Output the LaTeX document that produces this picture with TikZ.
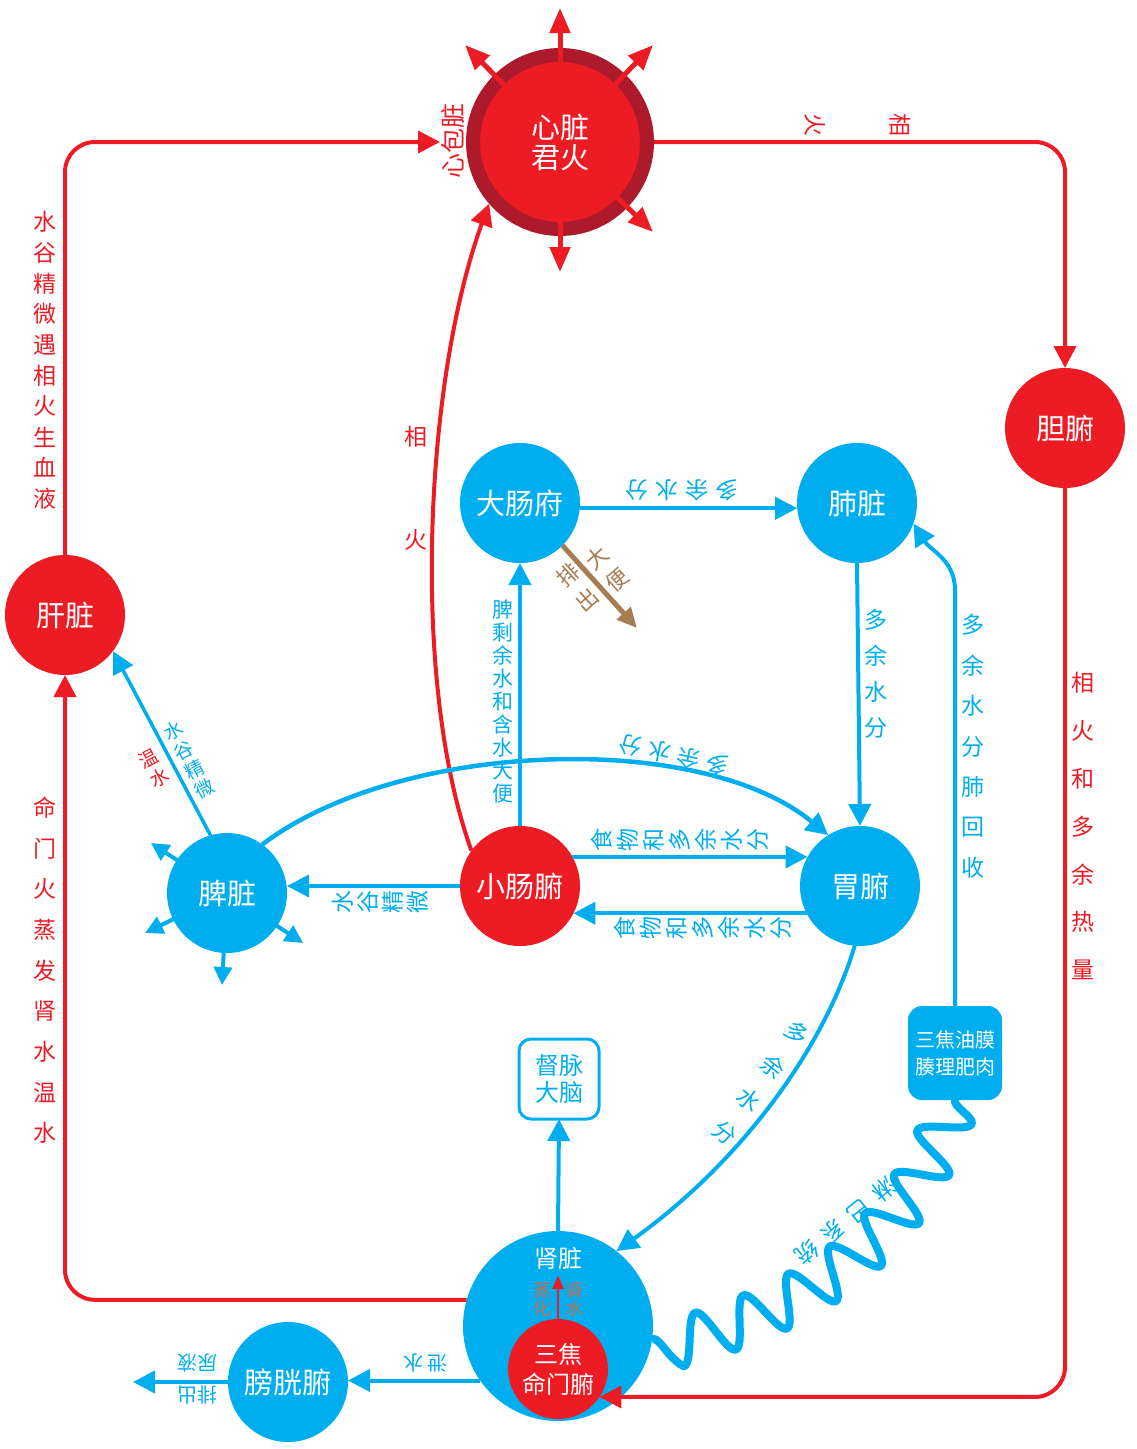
\documentclass[tikz,border=0pt]{standalone}
\usepackage{fontspec}
\setmainfont{Noto Sans CJK SC}
\usetikzlibrary{arrows.meta,decorations.pathmorphing}
\definecolor{cred}{RGB}{237,28,36}
\definecolor{cblue}{RGB}{0,174,239}
\definecolor{cdark}{RGB}{173,26,44}
\definecolor{cbrown}{RGB}{166,124,82}
\definecolor{corange}{RGB}{196,110,82}
\newcommand\lblseq[7]{\foreach \c [count=\i from 0] in {#7} {\node[#6] (#1\i) at ({#2+\i*(#4)},{#3+\i*(#5)}) {\c};}}
\begin{document}
\begin{tikzpicture}[x=1pt,y=-1pt,
  every node/.style={inner sep=0pt, outer sep=0pt},
  org/.style={circle, minimum size=120pt, text=white, font=\fontsize{29}{31}\selectfont, align=center},
  redorg/.style={org, fill=cred},
  blueorg/.style={org, fill=cblue},
  lblr/.style={text=cred, font=\fontsize{23}{25}\selectfont},
  lblb/.style={text=cblue, font=\fontsize{23}{25}\selectfont},
  lblbs/.style={text=cblue, font=\fontsize{20}{22}\selectfont},
  brownlbl/.style={text=cbrown, font=\fontsize{22}{24}\selectfont},
  orlbl/.style={text=corange, font=\fontsize{18}{20}\selectfont},
  rline/.style={draw=cred, line width=4pt},
  bline/.style={draw=cblue, line width=4pt},
  arrowhd/.style={-{Triangle[length=22pt,width=22pt]}},
  radial/.style={draw=cred, line width=5pt, shorten <=80pt, -{Triangle[length=25pt,width=20pt]}},
  smallarr/.style={draw=cblue, line width=4pt, shorten <=58pt, -{Triangle[length=18pt,width=18pt]}}
]
\useasboundingbox (0,0) rectangle (1136,1449);

% ---------- nodes ----------
\node[circle, minimum size=174pt, fill=cred, draw=cdark, line width=14pt, outer sep=7pt,
      text=white, font=\fontsize{29}{30}\selectfont, align=center] (heart) at (560,142) {心脏\\君火};
\node[redorg] (gb) at (1065,428) {胆腑};
\node[redorg] (lv) at (65,615) {肝脏};
\node[blueorg] (li) at (520,503) {大肠府};
\node[blueorg] (lu) at (857,503) {肺脏};
\node[redorg] (sm) at (520,886) {小肠腑};
\node[blueorg] (st) at (860,886) {胃腑};
\node[blueorg] (sp) at (227,893) {脾脏};
\node[blueorg] (bl) at (288,1382) {膀胱腑};
\node[circle, fill=cblue, minimum size=190pt] (kd) at (558,1326) {};
\node[text=white, font=\fontsize{24}{26}\selectfont] (kdlbl) at (558,1258) {肾脏};
\node[circle, fill=cred, minimum size=100pt, text=white, align=center,
      font=\fontsize{24}{30}\selectfont] (sj) at (558,1369) {三焦\\命门腑};
\node[draw=cblue, line width=3pt, fill=white, rounded corners=12pt, minimum width=80pt,
      minimum height=80pt, text=cblue, align=center, font=\fontsize{24}{27}\selectfont] (dm) at (559,1079) {督脉\\大脑};
\node[fill=cblue, rounded corners=14pt, minimum width=94pt, minimum height=94pt, text=white,
      align=center, font=\fontsize{20}{27}\selectfont] (ob) at (955,1053) {三焦油膜\\腠理肥肉};

% ---------- free ends ----------
\coordinate (hN) at (560,8);
\coordinate (hNE) at (653,45);
\coordinate (hNW) at (465,45);
\coordinate (hSE) at (653,232);
\coordinate (hS) at (560,272);
\coordinate (spa) at (151,843);
\coordinate (spb) at (145,933);
\coordinate (spc) at (222,985);
\coordinate (spd) at (303,943);
\coordinate (stool) at (637,628);
\coordinate (kdup) at (558,1275);
\coordinate (blout) at (133,1382);
\coordinate (ret) at (955,590);

% ---------- lymph wave ----------
\draw[draw=cblue, line width=8pt, line join=round, decorate,
      decoration={snake, segment length=53pt, amplitude=24pt}]
  (ob.south) .. controls (900,1250) and (800,1300) .. (kd.-8);

% ---------- red connectors ----------
\draw[rline, arrowhd, rounded corners=30pt, shorten >=26pt] (lv.north) |- (heart.west);
\draw[rline, arrowhd, rounded corners=30pt] (heart.east) -| (gb.north);
\draw[rline, arrowhd, rounded corners=30pt] (gb.south) |- (sj.-34);
\draw[rline, arrowhd, rounded corners=30pt] (kd.164) -| (lv.south);
\draw[rline, arrowhd] (sm.144) .. controls (410,680) and (425,380) .. (heart.221);
\foreach \t in {hN,hNE,hNW,hSE,hS} \draw[radial] (heart.center) -- (\t);

% ---------- blue connectors ----------
\draw[bline, arrowhd] (sm.north) -- (li.south);
\draw[bline, arrowhd] (li.-5) -- (lu.185);
\draw[bline, arrowhd] (lu.south) -- (st.north);
\draw[bline, arrowhd] (sm.29) -- (st.151);
\draw[bline, arrowhd] (st.-153) -- (sm.-27);
\draw[bline, arrowhd] (sm.west) -- (sm.west -| sp.east);
\draw[bline, line width=3.5pt, arrowhd] (sp.106) -- (lv.-37);
\draw[bline, line width=4.5pt, arrowhd] (sp.54) .. controls (400,740) and (700,730) .. (st.122);
\draw[bline, arrowhd] (st.-95) .. controls (820,1060) and (730,1170) .. (kd.52);
\draw[bline, arrowhd] (ob.north) -- (ret) .. controls (955,560) and (930,550) .. (lu.-20);
\draw[bline, arrowhd] (kd.north) -- (dm.south);
\draw[bline, arrowhd] (kd.215) -- (kd.215 -| bl.east);
\draw[bline, arrowhd] (bl.west) -- (blout);
\foreach \t in {spa,spb,spc,spd} \draw[smallarr] (sp.center) -- (\t);
\draw[draw=cbrown, line width=5pt, -{Triangle[length=20pt,width=18pt]}] (li.-45) -- (stool);
\draw[draw=cred, line width=2.5pt, -{Triangle[length=14pt,width=11pt]}] (sj.north) -- (kdup);

% ---------- labels ----------
\lblseq{lA}{45}{222}{0}{30.7}{lblr}{水,谷,精,微,遇,相,火,生,血,液}
\lblseq{lB}{45}{808}{0}{40.6}{lblr}{命,门,火,蒸,发,肾,水,温,水}
\lblseq{lC}{1083}{683}{0}{47.8}{lblr}{相,火,和,多,余,热,量}
\node[lblr] (xA) at (416,437) {相};
\node[lblr] (xB) at (416,540) {火};
\lblseq{lD}{503}{610}{0}{22.9}{lblb, font=\fontsize{21}{23}\selectfont}{脾,剩,余,水,和,含,水,大,便}
\lblseq{lE}{876}{620}{0}{36}{lblb}{多,余,水,分}
\lblseq{lF}{973}{625}{0}{40.5}{lblb}{多,余,水,分,肺,回,收}
\lblseq{lG}{602}{840}{26}{0}{lblb,rotate=90}{食,物,和,多,余,水,分}
\lblseq{lH}{625}{928}{26}{0}{lblb,rotate=90}{食,物,和,多,余,水,分}
\lblseq{lI}{343}{902}{25}{0}{lblb,rotate=90}{水,谷,精,微}
\node[text=cblue, rotate=28, align=center, font=\fontsize{19}{22}\selectfont] (lJ) at (189,760) {水\\谷\\精\\微};
\node[text=cred, rotate=28, align=center, font=\fontsize{19}{22}\selectfont] (lK) at (154,768) {温\\水};
\lblseq{lL}{597}{558}{20}{22}{brownlbl,rotate=42}{大,便}
\lblseq{lM}{568}{575}{19}{25}{brownlbl,rotate=42}{排,出}
\lblseq{lN}{727}{490}{-30}{0}{lblb,rotate=180}{多,余,水,分}
\lblseq{lO}{717}{765}{-29}{-6.5}{lblb,rotate=168}{多,余,水,分}
\lblseq{lP}{797}{1033}{-24}{33.3}{lblb,rotate=-38}{多,余,水,分}
\lblseq{lQ}{884}{1190}{-25.7}{21}{lblb,rotate=219}{淋,巴,系,统}
\lblseq{lR}{900}{125}{-85}{0}{lblr,rotate=-90}{相,火}
\node[lblr, font=\fontsize{25}{27}\selectfont, rotate=90] (xC) at (453,141) {心包脏};
\lblseq{lS}{437}{1363}{-24}{0}{lblbs,rotate=180}{泄,水}
\lblseq{lT}{207}{1363}{-20}{0}{lblbs,rotate=180}{尿,液}
\lblseq{lU}{207}{1395}{-20}{0}{lblbs,rotate=180}{排,出}
\lblseq{lV}{542}{1291}{0}{18}{orlbl}{蒸,化}
\lblseq{lW}{574}{1291}{0}{18}{orlbl}{肾,水}
\end{tikzpicture}
\end{document}
